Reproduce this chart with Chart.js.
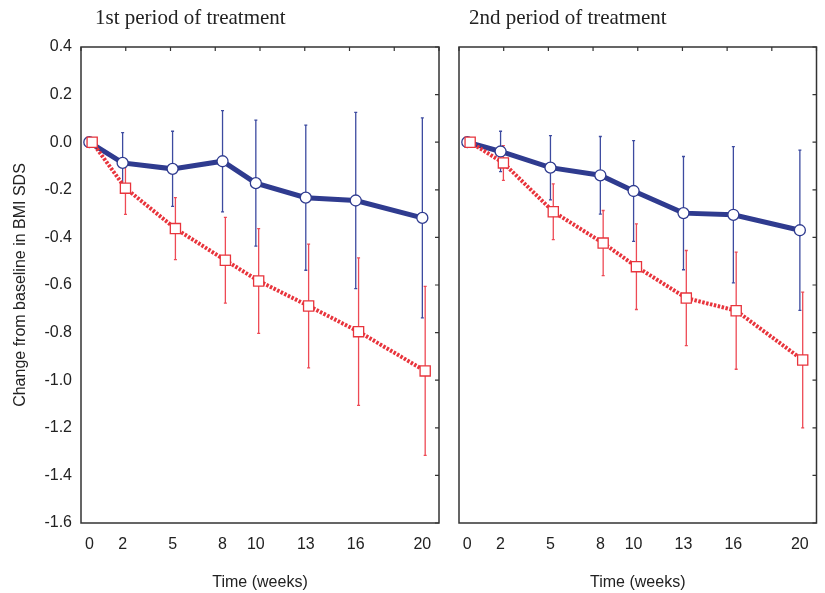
<!DOCTYPE html>
<html>
<head>
<meta charset="utf-8">
<script src="https://cdn.jsdelivr.net/npm/chart.js@4"></script>
<style>
  body { margin: 0; background: #fff; }
  .wrap { position: absolute; top: 0; height: 593px; }
  #left { left: 0; width: 450px; }
  #right { left: 450px; width: 375px; }
</style>
</head>
<body>
<div class="wrap" id="left"><canvas id="chart1"></canvas></div>
<div class="wrap" id="right"><canvas id="chart2"></canvas></div>
<script>
// weeks of measurement and tick labels
const weeks = [0, 2, 5, 8, 10, 13, 16, 20];
const yTicks = [0.4, 0.2, 0.0, -0.2, -0.4, -0.6, -0.8, -1.0, -1.2, -1.4, -1.6];
const panelTitles = ["1st period of treatment", "2nd period of treatment"];

// 1st period: mean change and error (half bar length)
const p1Blue = [0, -0.087, -0.112, -0.080, -0.172, -0.233, -0.245, -0.318];
const p1BlueErr = [0, 0.127, 0.158, 0.213, 0.265, 0.305, 0.370, 0.420];
const p1Red = [0, -0.193, -0.363, -0.496, -0.583, -0.688, -0.796, -0.961];
const p1RedErr = [0, 0.110, 0.130, 0.180, 0.220, 0.260, 0.310, 0.355];

// 2nd period
const p2Blue = [0, -0.039, -0.107, -0.139, -0.205, -0.298, -0.305, -0.370];
const p2BlueErr = [0, 0.085, 0.135, 0.163, 0.212, 0.238, 0.286, 0.337];
const p2Red = [0, -0.087, -0.292, -0.424, -0.523, -0.655, -0.708, -0.915];
const p2RedErr = [0, 0.073, 0.117, 0.137, 0.180, 0.200, 0.246, 0.285];

const DODGE = 0.17;
const BLUE = "#2f3b8f";
const RED = "#e8343c";

const framePlugin = {
    id: "frame",
    beforeDatasetsDraw(chart) {
        const ctx = chart.ctx;
        const y = chart.scales.y;
        // error bars
        chart.data.datasets.forEach((ds) => {
            ctx.save();
            ctx.strokeStyle = ds.errColor;
            ctx.lineWidth = 1.3;
            ds.data.forEach((pt, i) => {
                const e = ds.err[i];
                if (!e) return;
                const px = chart.scales.x.getPixelForValue(pt.x);
                const top = y.getPixelForValue(pt.y + e);
                const bot = y.getPixelForValue(pt.y - e);
                ctx.beginPath();
                ctx.moveTo(px, top);
                ctx.lineTo(px, bot);
                ctx.moveTo(px - 1.5, top);
                ctx.lineTo(px + 1.5, top);
                ctx.moveTo(px - 1.5, bot);
                ctx.lineTo(px + 1.5, bot);
                ctx.stroke();
            });
            ctx.restore();
        });
    },
    afterDraw(chart) {
        const ctx = chart.ctx;
        const a = chart.chartArea;
        ctx.save();
        ctx.strokeStyle = "#333";
        ctx.lineWidth = 1.5;
        ctx.strokeRect(a.left, a.top, a.right - a.left, a.bottom - a.top);
        ctx.lineWidth = 1.2;
        ctx.beginPath();
        chart.scales.y.ticks.forEach((t) => {
            const py = chart.scales.y.getPixelForValue(t.value);
            ctx.moveTo(a.right, py);
            ctx.lineTo(a.right - 4, py);
        });
        chart.scales.x2.ticks.forEach((t) => {
            const px = chart.scales.x2.getPixelForValue(t.value);
            ctx.moveTo(px, a.top);
            ctx.lineTo(px, a.top + 4);
        });
        ctx.stroke();
        // panel title
        const t = chart.options.plugins.panelTitle;
        ctx.fillStyle = "#222";
        ctx.font = "21px 'Liberation Serif', 'Times New Roman', serif";
        ctx.textBaseline = "middle";
        ctx.textAlign = "left";
        ctx.fillText(t.text, a.left + t.indent, 18);
        ctx.restore();
    }
};

function makeChart(canvasId, blue, blueErr, red, redErr, title, indent, showY) {
    const ctx = document.getElementById(canvasId).getContext("2d");
    return new Chart(ctx, {
        type: "line",
        data: {
            datasets: [{
                label: "red",
                data: weeks.map((w, i) => ({ x: w + DODGE, y: red[i] })),
                err: redErr,
                errColor: "#ee4a55",
                borderColor: RED,
                borderWidth: 4,
                borderDash: [2.5, 1.5],
                pointStyle: "rect",
                pointRadius: 7.2,
                pointBorderWidth: 1.3,
                pointBorderColor: RED,
                pointBackgroundColor: "#fff",
                order: 0,
                tension: 0
            }, {
                label: "blue",
                data: weeks.map((w, i) => ({ x: w, y: blue[i] })),
                err: blueErr,
                errColor: "#3d4ba0",
                borderColor: BLUE,
                borderWidth: 5,
                pointStyle: "circle",
                pointRadius: 5.5,
                pointBorderWidth: 1.3,
                pointBorderColor: BLUE,
                pointBackgroundColor: "#fff",
                order: 1,
                tension: 0
            }]
        },
        options: {
            responsive: true,
            maintainAspectRatio: false,
            animation: false,
            layout: { padding: { top: 47, right: showY ? 11 : 7, left: 0, bottom: 0 } },
            plugins: {
                legend: { display: false },
                tooltip: { enabled: false },
                panelTitle: { text: title, indent: indent }
            },
            scales: {
                x: {
                    type: "linear",
                    min: -0.5,
                    max: 21,
                    afterBuildTicks: (s) => { s.ticks = weeks.map((v) => ({ value: v })); },
                    afterFit: (s) => { s.height = 70; },
                    grid: { display: false, drawTicks: false },
                    border: { display: false },
                    ticks: {
                        padding: 12,
                        color: "#222",
                        font: { family: "'Liberation Sans', Arial, sans-serif", size: 16 },
                        maxRotation: 0,
                        autoSkip: false
                    },
                    title: {
                        display: true,
                        text: "Time (weeks)",
                        color: "#222",
                        padding: { top: 4, bottom: 1 },
                        font: { family: "'Liberation Sans', Arial, sans-serif", size: 16 }
                    }
                },
                x2: {
                    type: "linear",
                    position: "top",
                    min: 0.5,
                    max: 8.5,
                    afterFit: (s) => { s.height = 0; },
                    grid: { display: false, drawTicks: false },
                    border: { display: false },
                    ticks: { display: false, stepSize: 1 }
                },
                y: {
                    min: -1.6,
                    max: 0.4,
                    afterBuildTicks: (s) => { s.ticks = yTicks.map((v) => ({ value: v })); },
                    afterFit: (s) => { s.width = showY ? 81 : 9; },
                    grid: { display: false, drawTicks: false },
                    border: { display: false },
                    ticks: {
                        display: showY,
                        padding: 9,
                        color: "#222",
                        font: { family: "'Liberation Sans', Arial, sans-serif", size: 16 },
                        callback: (v) => v.toFixed(1)
                    },
                    title: {
                        display: showY,
                        text: "Change from baseline in BMI SDS",
                        color: "#222",
                        padding: { top: 11, bottom: 0 },
                        font: { family: "'Liberation Sans', Arial, sans-serif", size: 16 }
                    }
                }
            }
        },
        plugins: [framePlugin]
    });
}

makeChart("chart1", p1Blue, p1BlueErr, p1Red, p1RedErr, panelTitles[0], 14, true);
makeChart("chart2", p2Blue, p2BlueErr, p2Red, p2RedErr, panelTitles[1], 10, false);
</script>
</body>
</html>
